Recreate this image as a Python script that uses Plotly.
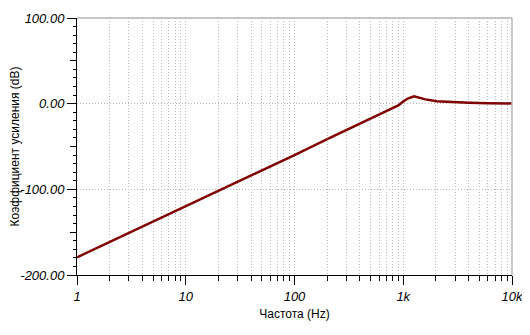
import plotly.graph_objects as go

freq_hz = [1, 2, 3.5, 5, 8.85, 10, 20, 50, 100, 200, 324, 500, 656, 800, 900, 1000,
           1100, 1256, 1400, 1600, 2030, 3000, 4000, 6000, 10000]
gain_db = [-179.3, -161.4, -147.0, -138.0, -122.3, -120.0, -101.5, -78.0, -60.0, -41.5,
           -28.9, -17.5, -10.5, -5.5, -2.0, 2.5, 6.0, 8.5, 6.8, 5.0, 2.7, 1.6, 1.1, 0.6, 0.3]

x_major = [1, 10, 100, 1000, 10000]
x_major_text = ["1", "10", "100", "1k", "10k"]
y_major = [-200, -100, 0, 100]
y_major_text = ["-200.00", "-100.00", "0.00", "100.00"]
y_medium = [-150, -50, 50]

x_minor = [m * d for d in [1, 10, 100, 1000] for m in range(2, 10)]
y_minor = [v for v in range(-200, 101, 10) if v % 50 != 0]

fig = go.Figure()
fig.add_trace(go.Scatter(x=freq_hz, y=gain_db, mode="lines",
                         line=dict(color="#800000", width=2.5), showlegend=False))
# invisible trace so the medium-tick axis is drawn
fig.add_trace(go.Scatter(x=[1], y=[0], yaxis="y2", mode="markers",
                         marker=dict(opacity=0), showlegend=False, hoverinfo="skip"))

grid = "#b8b8b8"
gdash = "1px,2px"
tickfont = dict(family="Liberation Sans, Arial", size=13, color="black", style="italic")

# page body has an 8px default margin; figure sized/placed to compensate
fig.update_layout(
    width=514, height=319,
    margin=dict(l=69, r=10, t=10, b=52, autoexpand=False),
    paper_bgcolor="white", plot_bgcolor="white",
    xaxis=dict(
        type="log", range=[0, 4], automargin=False, ticklabeloverflow="allow",
        tickmode="array", tickvals=x_major, ticktext=x_major_text,
        ticks="outside", ticklen=9, tickcolor="black", tickwidth=1,
        showline=True, linecolor="black", linewidth=1,
        showgrid=True, gridcolor=grid, griddash=gdash, gridwidth=1,
        tickfont=tickfont,
        minor=dict(tickmode="array", tickvals=x_minor, ticks="outside", ticklen=5,
                   tickcolor="black", showgrid=True, gridcolor=grid, griddash=gdash),
        title=dict(text="Частота (Hz)", standoff=7,
                   font=dict(family="Liberation Sans, Arial", size=12, color="black")),
        zeroline=False,
    ),
    yaxis=dict(
        range=[-200, 100], automargin=False, ticklabeloverflow="allow",
        tickmode="array", tickvals=y_major, ticktext=y_major_text,
        ticks="outside", ticklen=9, tickcolor="black", tickwidth=1,
        showline=True, linecolor="black", linewidth=1,
        showgrid=True, gridcolor=grid, griddash=gdash, gridwidth=1,
        tickfont=tickfont,
        minor=dict(tickmode="array", tickvals=y_minor, ticks="outside", ticklen=3,
                   tickcolor="black", showgrid=False),
        title=dict(text="Коэффициент усиления (dB)", standoff=6,
                   font=dict(family="Liberation Sans, Arial", size=12, color="black")),
        zeroline=False,
    ),
    yaxis2=dict(
        overlaying="y", side="left", anchor="x", range=[-200, 100], automargin=False,
        tickmode="array", tickvals=y_medium, ticks="outside", ticklen=6,
        tickcolor="black", showticklabels=False, showgrid=False, showline=False,
        zeroline=False,
    ),
    shapes=[
        dict(type="line", xref="paper", yref="paper", x0=0, x1=1, y0=1, y1=1,
             line=dict(color="#b4b4b4", width=1.5)),
        dict(type="line", xref="paper", yref="paper", x0=1, x1=1, y0=0, y1=1,
             line=dict(color="#b4b4b4", width=1.5)),
    ],
)

fig.write_html("out.html")
